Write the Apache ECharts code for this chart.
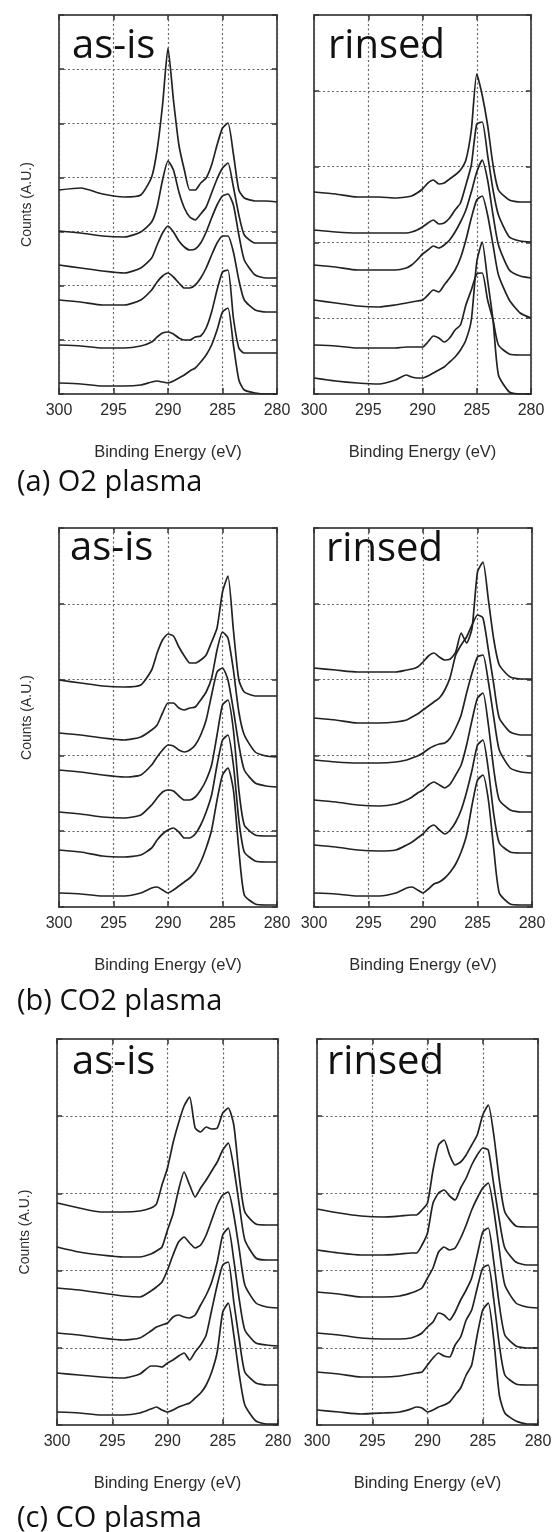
<!DOCTYPE html>
<html>
<head>
<meta charset="utf-8">
<script src="https://cdn.jsdelivr.net/npm/echarts@6/dist/echarts.min.js"></script>
<style>
  html, body { margin: 0; padding: 0; background: #fff; }
  #chart { width: 553px; height: 1532px; }
</style>
</head>
<body>
<div id="chart"></div>
<script>
// C 1s spectra: binding energy sampling points (eV), shared by every spectrum
const ENERGY = [300, 298, 296, 294, 292.5, 291.5, 291, 290.5, 290, 289.5, 289, 288.5, 288,
                287.5, 287, 286.5, 286, 285.5, 285, 284.5, 284, 283.5, 283, 282, 281, 280];

// Stacked counts (A.U., offset included), top spectrum first
const O2_ASIS = [
  [204, 206, 200, 197, 199, 217, 244, 289, 346, 294, 249, 224, 204, 204, 211, 216, 229, 249, 266, 271, 240, 204, 196, 193, 193, 192],
  [163, 161, 158, 157, 162, 172, 187, 214, 233, 224, 202, 186, 177, 174, 180, 187, 201, 215, 226, 231, 207, 179, 159, 151, 151, 151],
  [129, 126, 123, 121, 126, 136, 149, 161, 168, 162, 153, 147, 144, 145, 151, 162, 176, 189, 198, 200, 189, 159, 134, 119, 116, 116],
  [94, 92, 89, 89, 94, 104, 112, 118, 121, 117, 111, 106, 106, 109, 116, 126, 139, 151, 158, 158, 142, 114, 94, 84, 82, 82],
  [49, 48, 46, 46, 48, 52, 57, 61, 62, 60, 56, 54, 54, 57, 58, 66, 82, 104, 122, 124, 76, 46, 41, 41, 41, 41],
  [11, 10, 8, 8, 9, 12, 13, 12, 11, 13, 16, 19, 23, 26, 32, 39, 49, 64, 82, 86, 49, 14, 4, 1, 0, 0]
];
const O2_RINSED = [
  [202, 200, 197, 197, 196, 197, 198, 201, 205, 211, 214, 210, 211, 215, 219, 224, 234, 264, 320, 299, 269, 229, 204, 194, 192, 192],
  [164, 162, 161, 161, 161, 161, 162, 164, 167, 171, 174, 170, 171, 176, 184, 191, 209, 229, 270, 272, 239, 204, 179, 157, 153, 152],
  [129, 127, 124, 124, 124, 126, 129, 134, 140, 144, 148, 146, 149, 154, 162, 172, 184, 202, 222, 234, 214, 179, 149, 124, 118, 116],
  [94, 91, 88, 87, 89, 91, 92, 93, 94, 99, 104, 102, 109, 116, 124, 136, 154, 176, 194, 198, 179, 149, 119, 94, 81, 76],
  [49, 48, 46, 46, 46, 47, 47, 47, 47, 52, 58, 56, 52, 56, 64, 69, 89, 104, 120, 121, 94, 74, 49, 40, 39, 39],
  [16, 13, 11, 10, 14, 19, 17, 16, 16, 18, 21, 24, 27, 32, 37, 44, 54, 74, 132, 152, 114, 74, 19, 2, 0, 0]
];
const CO2_ASIS = [
  [227, 224, 221, 220, 222, 237, 254, 267, 273, 271, 260, 251, 244, 244, 247, 252, 265, 279, 315, 331, 277, 227, 215, 211, 211, 211],
  [174, 172, 169, 167, 170, 177, 182, 194, 204, 204, 199, 197, 199, 200, 207, 215, 229, 257, 275, 269, 237, 195, 172, 155, 151, 150],
  [137, 135, 132, 130, 132, 142, 150, 157, 162, 161, 157, 155, 157, 162, 172, 187, 212, 235, 239, 227, 197, 162, 137, 124, 121, 120],
  [95, 93, 90, 89, 92, 102, 109, 115, 117, 116, 111, 107, 107, 110, 117, 127, 142, 172, 202, 207, 177, 117, 82, 72, 71, 71],
  [57, 55, 51, 50, 52, 59, 67, 73, 77, 79, 75, 69, 69, 73, 82, 95, 112, 142, 167, 172, 142, 87, 55, 46, 45, 45],
  [14, 13, 11, 11, 14, 19, 20, 17, 14, 17, 21, 25, 29, 35, 45, 59, 77, 107, 132, 139, 117, 57, 12, 3, 2, 2]
];
const CO2_RINSED = [
  [239, 237, 235, 235, 235, 237, 238, 240, 245, 251, 254, 250, 247, 248, 255, 274, 264, 279, 335, 345, 307, 267, 242, 230, 228, 228],
  [189, 187, 184, 184, 185, 187, 190, 193, 197, 201, 205, 209, 217, 230, 252, 262, 270, 282, 292, 289, 257, 222, 189, 175, 172, 172],
  [147, 145, 144, 144, 145, 147, 149, 151, 154, 158, 161, 163, 164, 169, 179, 192, 214, 234, 250, 252, 225, 189, 157, 139, 135, 134],
  [107, 105, 102, 101, 103, 107, 110, 114, 117, 122, 125, 122, 119, 123, 132, 142, 162, 187, 209, 214, 182, 137, 107, 97, 95, 95],
  [62, 60, 57, 56, 57, 62, 65, 69, 73, 79, 82, 77, 73, 77, 85, 97, 115, 137, 162, 167, 137, 92, 64, 55, 54, 54],
  [14, 13, 11, 11, 14, 19, 20, 17, 14, 18, 23, 25, 29, 35, 43, 55, 72, 102, 127, 132, 107, 57, 14, 3, 2, 2]
];
const CO_ASIS = [
  [222, 217, 213, 213, 214, 217, 221, 240, 257, 282, 302, 319, 328, 297, 293, 298, 296, 297, 312, 317, 300, 248, 213, 201, 200, 200],
  [178, 173, 170, 168, 168, 171, 174, 178, 195, 211, 235, 253, 240, 228, 237, 245, 254, 263, 275, 282, 257, 220, 185, 167, 165, 165],
  [137, 135, 132, 129, 128, 134, 138, 143, 155, 170, 183, 188, 182, 177, 180, 190, 205, 220, 230, 233, 210, 175, 140, 122, 118, 117],
  [92, 90, 87, 85, 87, 94, 98, 100, 102, 108, 110, 108, 107, 110, 120, 130, 143, 163, 190, 197, 165, 125, 95, 82, 80, 79],
  [52, 50, 48, 47, 51, 59, 59, 58, 62, 65, 69, 72, 65, 73, 80, 90, 115, 140, 160, 163, 123, 85, 53, 42, 40, 40],
  [13, 12, 10, 10, 12, 16, 18, 15, 13, 15, 18, 20, 22, 27, 32, 40, 53, 73, 113, 122, 90, 50, 20, 4, 1, 1]
];
const CO_RINSED = [
  [216, 212, 209, 208, 209, 210, 210, 215, 222, 255, 280, 285, 270, 260, 263, 270, 280, 290, 310, 320, 290, 245, 213, 199, 198, 198],
  [175, 172, 170, 170, 171, 172, 172, 180, 192, 222, 232, 235, 229, 225, 237, 247, 260, 270, 277, 275, 240, 205, 177, 163, 160, 160],
  [133, 131, 128, 128, 129, 132, 134, 137, 147, 157, 173, 178, 175, 177, 187, 200, 215, 227, 237, 242, 215, 175, 140, 122, 118, 117],
  [92, 90, 87, 86, 86, 87, 89, 92, 98, 103, 112, 110, 105, 113, 125, 135, 147, 170, 193, 197, 163, 120, 90, 79, 77, 77],
  [53, 51, 48, 48, 49, 51, 52, 53, 60, 67, 72, 69, 68, 80, 88, 105, 115, 137, 157, 160, 125, 80, 50, 41, 40, 40],
  [15, 13, 11, 12, 13, 16, 18, 17, 13, 15, 18, 20, 23, 30, 37, 50, 60, 90, 115, 122, 85, 30, 12, 4, 1, 1]
];

// Counts axis range and number of grid divisions for each panel
const COUNT_MAX = [379, 379, 379, 379, 386, 386];
const COUNT_DIVS = [7, 5, 5, 5, 5, 5];

const PANEL_TITLES = ['as-is', 'rinsed', 'as-is', 'rinsed', 'as-is', 'rinsed'];
const CAPTIONS = ['(a) O2 plasma', '(b) CO2 plasma', '(c) CO plasma'];
const X_NAME = 'Binding Energy (eV)';
const Y_NAME = 'Counts (A.U.)';

const SPECTRA = [O2_ASIS, O2_RINSED, CO2_ASIS, CO2_RINSED, CO_ASIS, CO_RINSED];

// panel rectangles (px)
const RECTS = [
  { left: 59,  top: 15,   width: 218, height: 379 },
  { left: 314, top: 15,   width: 217, height: 379 },
  { left: 59,  top: 528,  width: 218, height: 379 },
  { left: 314, top: 528,  width: 218, height: 379 },
  { left: 57,  top: 1039, width: 221, height: 386 },
  { left: 317, top: 1039, width: 221, height: 386 }
];
// text anchor points (left, top of text box)
const TITLE_POS = [[72, 27], [328, 27], [70, 529], [326, 530], [72, 1043], [327, 1043]];
const CAPTION_POS = [[17, 468], [17, 987], [17, 1504]];

const FRAME = '#555';
const GRIDLINE = '#666';
const INK = '#222';
const LABEL_FONT = 'Liberation Sans, Arial, sans-serif';

const grids = [], xAxes = [], yAxes = [], series = [];

RECTS.forEach((r, i) => {
  grids.push({ left: r.left, top: r.top, width: r.width, height: r.height,
               containLabel: false, outerBoundsMode: 'none' });
  const isLeft = i % 2 === 0;
  const frameLine = { show: true, onZero: false, lineStyle: { color: FRAME, width: 2 } };
  const tick = (len) => ({ show: true, inside: true, length: len, lineStyle: { color: '#333', width: 1.5 } });
  const dotted = { show: true, lineStyle: { color: GRIDLINE, width: 1.2, type: [2, 2.5] } };

  xAxes.push({
    gridIndex: i, type: 'value', position: 'bottom', min: 280, max: 300, interval: 5, inverse: true,
    axisLine: frameLine, axisTick: tick(6), splitLine: dotted,
    axisLabel: { fontSize: 16, color: '#2b2b2b', margin: 9, fontFamily: LABEL_FONT },
    name: X_NAME, nameLocation: 'middle', nameGap: 50,
    nameTextStyle: { fontSize: 16.5, color: '#2b2b2b', fontFamily: LABEL_FONT }
  });
  xAxes.push({
    gridIndex: i, type: 'value', position: 'top', min: 280, max: 300, interval: 5, inverse: true,
    axisLine: frameLine, axisTick: tick(5), axisLabel: { show: false }, splitLine: { show: false }
  });
  const yBase = {
    gridIndex: i, type: 'value', min: 0, max: COUNT_MAX[i], interval: COUNT_MAX[i] / COUNT_DIVS[i],
    axisLine: frameLine, axisTick: tick(5), axisLabel: { show: false }
  };
  yAxes.push(Object.assign({}, yBase, {
    position: 'left', splitLine: dotted,
    name: isLeft ? Y_NAME : '', nameLocation: 'middle', nameGap: 25, nameRotate: 90,
    nameTextStyle: { fontSize: 14, color: '#2b2b2b', fontFamily: LABEL_FONT }
  }));
  yAxes.push(Object.assign({}, yBase, { position: 'right', splitLine: { show: false } }));

  SPECTRA[i].forEach((counts) => {
    series.push({
      type: 'line', xAxisIndex: 2 * i, yAxisIndex: 2 * i,
      data: ENERGY.map((e, k) => [e, counts[k]]),
      showSymbol: false, symbol: 'none', silent: true, clip: true, smooth: 0.2,
      lineStyle: { color: INK, width: 1.7 }
    });
  });
});

const graphic = [];
PANEL_TITLES.forEach((t, i) => {
  graphic.push({
    type: 'text', left: TITLE_POS[i][0], top: TITLE_POS[i][1], z: 10,
    style: { text: t, font: '40px "Open Sans", sans-serif', fill: '#111' }
  });
});
CAPTIONS.forEach((t, i) => {
  graphic.push({
    type: 'text', left: CAPTION_POS[i][0], top: CAPTION_POS[i][1], z: 10,
    style: { text: t, font: '29px "Open Sans", sans-serif', fill: '#111' }
  });
});

const chart = echarts.init(document.getElementById('chart'), null, { renderer: 'canvas' });
chart.setOption({
  animation: false,
  backgroundColor: '#fff',
  grid: grids, xAxis: xAxes, yAxis: yAxes, series: series, graphic: graphic
});
</script>
</body>
</html>
